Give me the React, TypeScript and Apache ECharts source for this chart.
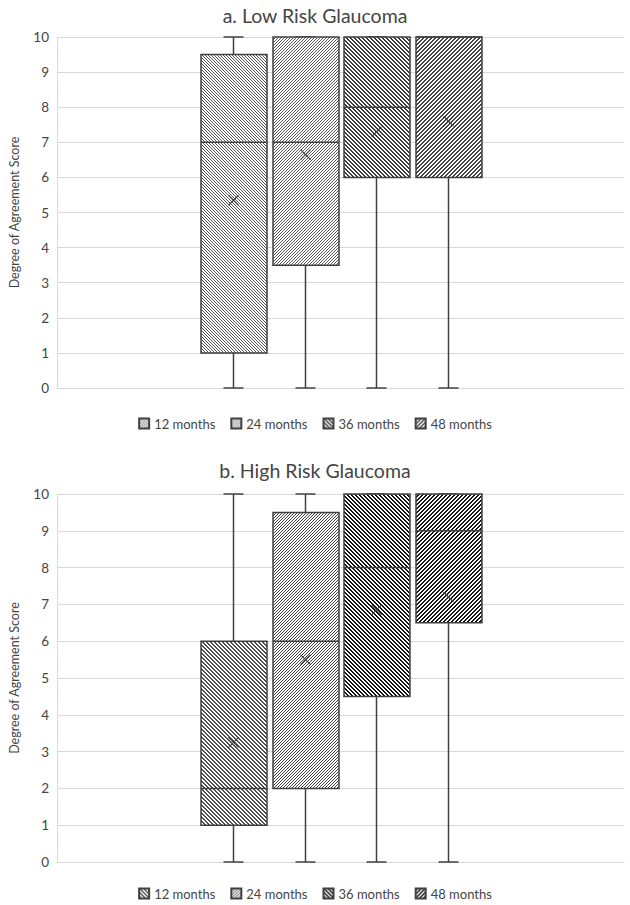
import React, { useEffect, useRef } from 'react';
import * as echarts from 'echarts';

const categories = ['12 months', '24 months', '36 months', '48 months'];
const yTicks = [0, 10, 1];

const lowMin = [0, 0, 0, 0];
const lowQ1 = [1, 3.5, 6, 6];
const lowMedian = [7, 7, 8, 10];
const lowQ3 = [9.5, 10, 10, 10];
const lowMax = [10, 10, 10, 10];
const lowMean = [5.35, 6.65, 7.3, 7.6];

const highMin = [0, 0, 0, 0];
const highQ1 = [1, 2, 4.5, 6.5];
const highMedian = [2, 6, 8, 9];
const highQ3 = [6, 9.5, 10, 10];
const highMax = [10, 10, 10, 10];
const highMean = [3.25, 5.5, 6.85, 7.2];

type Pat = { dir: 'back' | 'fwd'; fg: string; thick: number; period: number };

const lowPatterns: Pat[] = [
  { dir: 'back', fg: '#555555', thick: 1, period: 3 },
  { dir: 'fwd', fg: '#5a5a5a', thick: 1, period: 3 },
  { dir: 'back', fg: '#3a3a3a', thick: 2, period: 4 },
  { dir: 'fwd', fg: '#444444', thick: 2, period: 4 },
];
const highPatterns: Pat[] = [
  { dir: 'back', fg: '#505050', thick: 2, period: 4 },
  { dir: 'fwd', fg: '#404040', thick: 1, period: 3 },
  { dir: 'back', fg: '#111111', thick: 2, period: 4 },
  { dir: 'fwd', fg: '#151515', thick: 2, period: 4 },
];

const FONT = 'Lato, "Noto Sans", sans-serif';
const TEXT = '#454545';
const LINE = '#404040';

function makePattern(p: Pat) {
  const P = p.period;
  const c = document.createElement('canvas');
  c.width = P;
  c.height = P;
  const ctx = c.getContext('2d')!;
  ctx.fillStyle = '#ffffff';
  ctx.fillRect(0, 0, P, P);
  ctx.fillStyle = p.fg;
  for (let y = 0; y < P; y++) {
    for (let x = 0; x < P; x++) {
      const k = p.dir === 'back' ? (((x - y) % P) + P) % P : (x + y) % P;
      if (k < p.thick) ctx.fillRect(x, y, 1, 1);
    }
  }
  return { image: c.toDataURL(), repeat: 'repeat', imageWidth: P, imageHeight: P };
}

type Props = {
  title: string;
  mins: number[];
  q1s: number[];
  meds: number[];
  q3s: number[];
  maxs: number[];
  means: number[];
  pats: Pat[];
  top: number;
  height: number;
  gridTop: number;
  gridHeight: number;
  titleTop: number;
  legendTop: number;
};

function BoxChart(props: Props) {
  const ref = useRef<HTMLDivElement>(null);
  useEffect(() => {
    const chart = echarts.init(ref.current!, null, { renderer: 'svg' });
    const fills = props.pats.map(makePattern);
    const series = categories.map((name, i) => ({
      type: 'custom',
      name,
      itemStyle: { color: fills[i], borderColor: LINE, borderWidth: 1 },
      data: [[0, props.mins[i], props.q1s[i], props.meds[i], props.q3s[i], props.maxs[i], props.means[i]]],
      encode: { x: 0, y: [1, 2, 3, 4, 5, 6] },
      renderItem: (params: any, api: any) => {
        const cat = api.value(0);
        const band = api.size([1, 0])[0];
        const boxW = Math.round(band * 0.1162);
        const step = band * 0.1266;
        const base = api.coord([cat, 0]);
        const cx = Math.round(base[0] + (i - 1.5) * step) + 0.5;
        const yOf = (k: number) => api.coord([cat, api.value(k)])[1];
        const yMin = yOf(1);
        const yQ1 = yOf(2);
        const yMed = yOf(3);
        const yQ3 = yOf(4);
        const yMax = yOf(5);
        const yMean = yOf(6);
        const left = Math.round(cx - boxW / 2);
        const st = { stroke: LINE, lineWidth: 1.5 };
        const cap = 10;
        const xs = 5;
        return {
          type: 'group',
          children: [
            { type: 'line', shape: { x1: cx, y1: yQ3, x2: cx, y2: yMax }, style: st },
            { type: 'line', shape: { x1: cx - cap, y1: yMax, x2: cx + cap, y2: yMax }, style: st },
            { type: 'line', shape: { x1: cx, y1: yQ1, x2: cx, y2: yMin }, style: st },
            { type: 'line', shape: { x1: cx - cap, y1: yMin, x2: cx + cap, y2: yMin }, style: st },
            {
              type: 'rect',
              shape: { x: left, y: yQ3, width: boxW, height: yQ1 - yQ3 },
              style: { fill: fills[i], stroke: LINE, lineWidth: 1.5 },
            },
            { type: 'line', shape: { x1: left, y1: yMed, x2: left + boxW, y2: yMed }, style: st },
            {
              type: 'line',
              shape: { x1: cx - xs, y1: yMean - xs, x2: cx + xs, y2: yMean + xs },
              style: { stroke: LINE, lineWidth: 1.2 },
            },
            {
              type: 'line',
              shape: { x1: cx - xs, y1: yMean + xs, x2: cx + xs, y2: yMean - xs },
              style: { stroke: LINE, lineWidth: 1.2 },
            },
          ],
        };
      },
    }));

    chart.setOption({
      animation: false,
      backgroundColor: '#ffffff',
      textStyle: { fontFamily: FONT },
      title: {
        text: props.title,
        left: 'center',
        top: props.titleTop,
        textStyle: { fontSize: 19.5, fontWeight: 'normal', color: TEXT, fontFamily: FONT },
      },
      legend: {
        data: categories,
        left: 'center',
        top: props.legendTop,
        icon: 'rect',
        itemWidth: 10,
        itemHeight: 10,
        itemGap: 15,
        textStyle: { fontSize: 13, color: TEXT, fontFamily: FONT },
        selectedMode: false,
      },
      grid: { left: 50, right: 6, top: props.gridTop, height: props.gridHeight },
      xAxis: {
        type: 'category',
        data: [''],
        axisLine: { show: true, lineStyle: { color: '#d9d9d9' } },
        axisTick: { show: false },
        axisLabel: { show: false },
      },
      yAxis: {
        type: 'value',
        min: yTicks[0],
        max: yTicks[1],
        interval: yTicks[2],
        name: 'Degree of Agreement Score',
        nameLocation: 'middle',
        nameGap: 36,
        nameTextStyle: { fontSize: 12.5, color: TEXT, fontFamily: FONT },
        axisLine: { show: true, lineStyle: { color: '#d9d9d9' } },
        axisTick: { show: false },
        axisLabel: { fontSize: 13.5, color: TEXT, margin: 8, fontFamily: FONT },
        splitLine: { lineStyle: { color: '#d9d9d9' } },
      },
      series,
    });
    return () => chart.dispose();
  }, []);
  return (
    <div
      ref={ref}
      style={{ position: 'absolute', left: 0, top: props.top, width: 630, height: props.height }}
    />
  );
}

export default function App() {
  return (
    <div style={{ position: 'absolute', left: 0, top: 0, width: 630, height: 905, background: '#fff' }}>
      <BoxChart
        title="a. Low Risk Glaucoma"
        mins={lowMin}
        q1s={lowQ1}
        meds={lowMedian}
        q3s={lowQ3}
        maxs={lowMax}
        means={lowMean}
        pats={lowPatterns}
        top={0}
        height={452}
        gridTop={37}
        gridHeight={351}
        titleTop={0}
        legendTop={412}
      />
      <BoxChart
        title="b. High Risk Glaucoma"
        mins={highMin}
        q1s={highQ1}
        meds={highMedian}
        q3s={highQ3}
        maxs={highMax}
        means={highMean}
        pats={highPatterns}
        top={452}
        height={453}
        gridTop={42}
        gridHeight={368}
        titleTop={3}
        legendTop={430}
      />
    </div>
  );
}
